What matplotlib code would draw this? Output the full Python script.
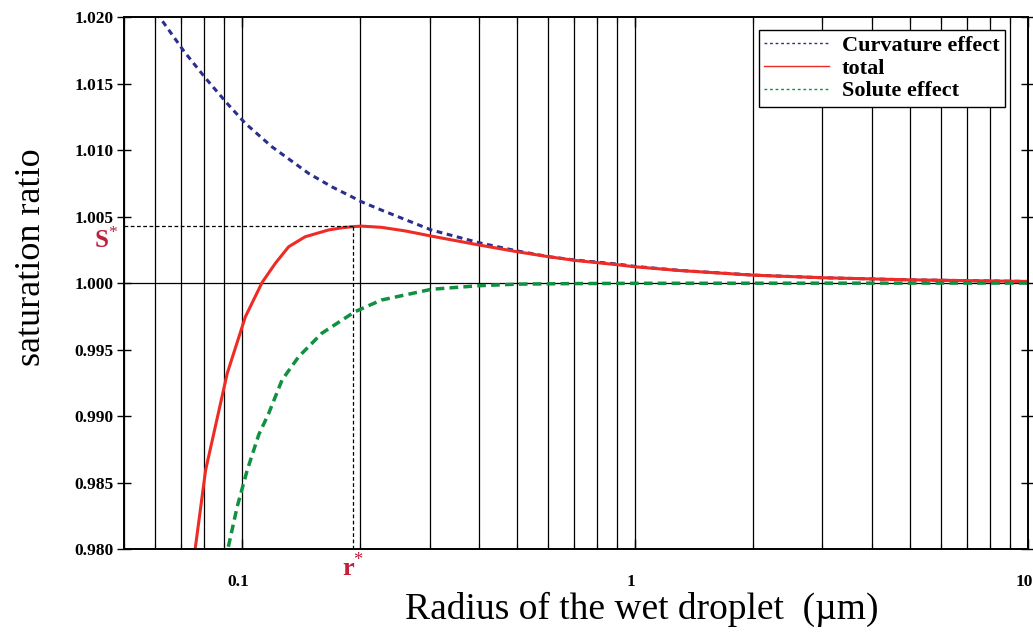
import matplotlib
matplotlib.use('Agg')
import matplotlib.pyplot as plt
import matplotlib.transforms as mtransforms
from matplotlib.ticker import FixedLocator, FormatStrFormatter, LogLocator, NullFormatter

plt.rcParams['font.family'] = ['Liberation Serif', 'DejaVu Serif']
plt.rcParams['mathtext.fontset'] = 'custom'
plt.rcParams['mathtext.rm'] = 'Liberation Serif'

# Köhler curve values (radius in µm)
blue_r = [0.060, 0.0616, 0.0712, 0.0807, 0.0916, 0.1019, 0.119, 0.1475, 0.169, 0.190,
          0.2013, 0.226, 0.303, 0.401, 0.502, 0.603, 0.704, 0.899, 1.0, 1.3, 2.0, 3.0, 5.0, 10.0]
blue_s = [1.0202, 1.0200, 1.0174, 1.0154, 1.0135, 1.0120, 1.01025, 1.00825, 1.00724, 1.00649,
          1.00611, 1.00549, 1.00399, 1.00303, 1.00241, 1.00198, 1.00173, 1.00143, 1.00125,
          1.00095, 1.0006, 1.0004, 1.00024, 1.00012]

red_r = [0.0759, 0.0807, 0.0916, 0.1019, 0.1124, 0.1214, 0.1313, 0.1446, 0.1658, 0.1800,
         0.1935, 0.2013, 0.226, 0.260, 0.303, 0.401, 0.502, 0.603, 0.704, 0.899, 1.0, 1.3,
         2.0, 3.0, 5.0, 10.0]
red_s = [0.9800, 0.98594, 0.99321, 0.99747, 1.00005, 1.00148, 1.00273, 1.00348, 1.00399,
         1.00416, 1.00425, 1.00428, 1.00419, 1.00392, 1.00353, 1.00286, 1.00235, 1.00198,
         1.00170, 1.00138, 1.00122, 1.00094, 1.00059, 1.0004, 1.00024, 1.00012]

green_r = [0.0922, 0.0971, 0.1030, 0.1102, 0.1168, 0.1263, 0.1392, 0.1594, 0.1935, 0.226,
           0.303, 0.401, 0.502, 0.70, 1.0, 10.0]
green_s = [0.98017, 0.98318, 0.98594, 0.9886, 0.9902, 0.99271, 0.99446, 0.99622, 0.99784,
           0.99872, 0.99953, 0.9998, 0.99992, 0.99996, 0.99998, 1.0]

r_star = 0.192
s_star = 1.00429

yticks = [0.980, 0.985, 0.990, 0.995, 1.000, 1.005, 1.010, 1.015, 1.020]
xticks = [0.1, 1, 10]
xticklabels = ['0.1', '1', '10']

fig = plt.figure(figsize=(10.33, 6.32), dpi=100)
ax = fig.add_axes([0.120, 0.1313, 0.875, 0.8417])

ax.set_xscale('log')
ax.set_xlim(0.05, 10)
ax.set_ylim(0.980, 1.020)

ax.grid(True, which='both', axis='x', color='black', lw=0.9)
ax.axhline(1.0, color='black', lw=0.9)

ax.plot(blue_r, blue_s, color='#2b2f8c', lw=2.2, ls=(0, (1.9, 1.5)), label='Curvature effect')
ax.plot(red_r, red_s, color='#ee2b24', lw=2.2, label='total')
ax.plot(green_r, green_s, color='#109040', lw=2.5, ls=(0, (2.5, 1.5)), label='Solute effect')

# S* and r* guides
ax.plot([0.05, r_star], [s_star, s_star], color='black', lw=0.9, ls=(0, (3, 2)))
ax.plot([r_star, r_star], [0.980, s_star], color='black', lw=0.9, ls=(0, (3, 2)))

ax.set_xticks(xticks)
ax.set_xticklabels(xticklabels)
ax.xaxis.set_minor_locator(LogLocator(base=10, subs=range(2, 10)))
ax.xaxis.set_minor_formatter(NullFormatter())
ax.yaxis.set_major_locator(FixedLocator(yticks))
ax.yaxis.set_major_formatter(FormatStrFormatter('%.3f'))

ax.tick_params(axis='both', which='major', direction='in', top=True, right=True,
               length=7, width=1.0, labelsize=12.5)
ax.tick_params(axis='both', which='minor', direction='in', top=True, right=True,
               length=4, width=0.8)
ax.tick_params(axis='y', which='major', direction='inout', length=10, pad=2.5)
ax.tick_params(axis='x', which='major', pad=18)

shift = mtransforms.ScaledTranslation(-4 / 100, 0, fig.dpi_scale_trans)
for lab in ax.get_xticklabels():
    lab.set_fontweight('bold')
    lab.set_transform(lab.get_transform() + shift)
for lab in ax.get_yticklabels():
    lab.set_fontweight('bold')

for sp in ax.spines.values():
    sp.set_linewidth(1.4)

ax.set_xlabel('Radius of the wet droplet  (µm)', fontsize=27)
ax.xaxis.set_label_coords(0.573, -0.08)
ax.set_ylabel('saturation ratio', fontsize=26)
ax.yaxis.set_label_coords(-0.084, 0.549)

ax.text(-0.007, 1.0032, r'S$^{*}$', color='#c0203a', fontsize=18, fontweight='bold',
        transform=ax.get_yaxis_transform(), ha='right', va='center')
ax.text(r_star, -0.006, r'r$^{*}$', color='#c0203a', fontsize=19, fontweight='bold',
        transform=ax.get_xaxis_transform(), ha='center', va='top')

leg = ax.legend(loc='upper right', frameon=True, fancybox=False, edgecolor='black',
                framealpha=1, prop={'weight': 'bold', 'size': 16}, handlelength=2.9,
                handletextpad=0.6, borderpad=0.25, labelspacing=0.1, borderaxespad=0,
                bbox_to_anchor=(0.975, 0.976))
leg.get_frame().set_linewidth(1.0)
for ln in leg.get_lines():
    ln.set_linewidth(1.0)
    if ln.get_label() != 'total':
        ln.set_linestyle((0, (2, 2)))

fig.savefig('out.png', dpi=100)
